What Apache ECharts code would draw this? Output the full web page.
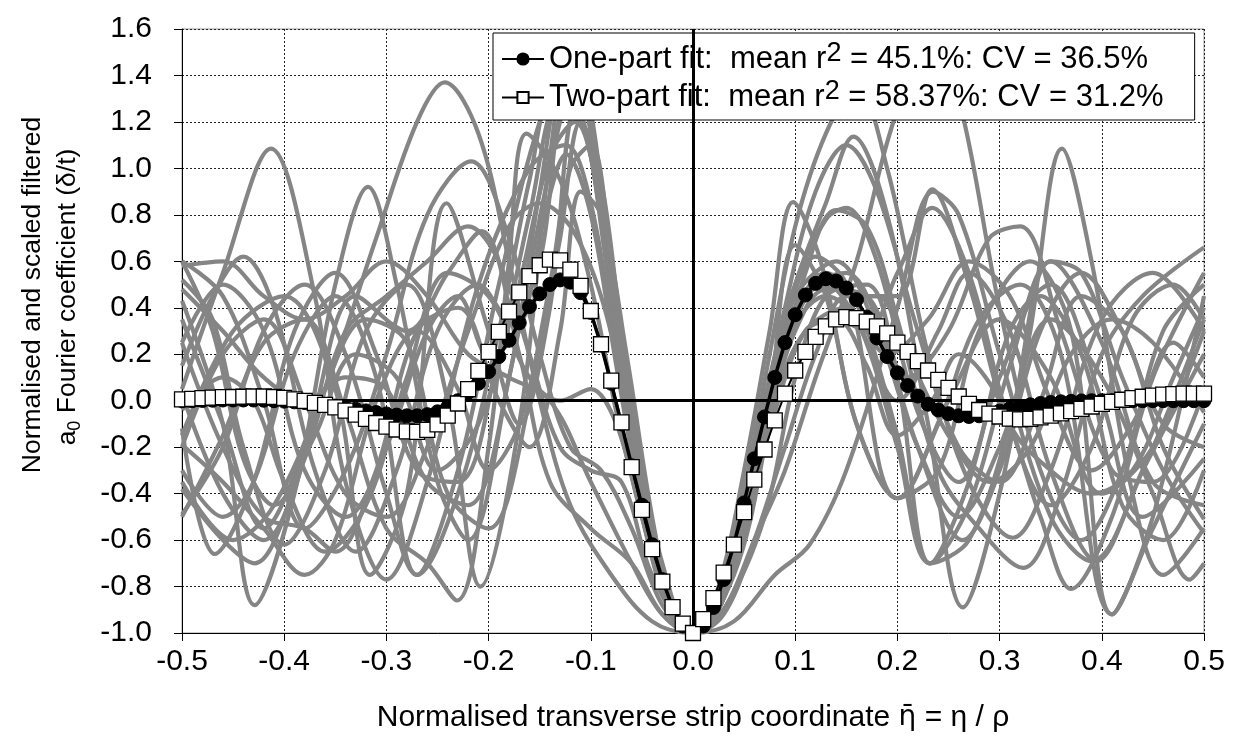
<!DOCTYPE html>
<html>
<head>
<meta charset="utf-8">
<script src="https://cdn.jsdelivr.net/npm/echarts@6/dist/echarts.min.js"></script>
<style>html,body{margin:0;padding:0;background:#fff}#c{width:1236px;height:740px}</style>
</head>
<body>
<div id="c"></div>
<script>
// ---------------- data ----------------
const fitNames = ['One-part fit', 'Two-part fit'];
const fitR2 = ['45.1%', '58.37%'];
const fitCV = ['36.5%', '31.2%'];
const yTitleLine1 = 'Normalised and scaled filtered';
const yTitleLine2 = ['a', '0', ' Fourier coefficient (δ/t)'];
const xTitleParts = ['Normalised transverse strip coordinate ', 'η̄', ' = η / ρ'];

const xFit = [-0.50,-0.49,-0.48,-0.47,-0.46,-0.45,-0.44,-0.43,-0.42,-0.41,-0.40,-0.39,-0.38,-0.37,-0.36,-0.35,-0.34,-0.33,-0.32,-0.31,-0.30,-0.29,-0.28,-0.27,-0.26,-0.25,-0.24,-0.23,-0.22,-0.21,-0.20,-0.19,-0.18,-0.17,-0.16,-0.15,-0.14,-0.13,-0.12,-0.11,-0.10,-0.09,-0.08,-0.07,-0.06,-0.05,-0.04,-0.03,-0.02,-0.01,0.00,0.01,0.02,0.03,0.04,0.05,0.06,0.07,0.08,0.09,0.10,0.11,0.12,0.13,0.14,0.15,0.16,0.17,0.18,0.19,0.20,0.21,0.22,0.23,0.24,0.25,0.26,0.27,0.28,0.29,0.30,0.31,0.32,0.33,0.34,0.35,0.36,0.37,0.38,0.39,0.40,0.41,0.42,0.43,0.44,0.45,0.46,0.47,0.48,0.49,0.50];

const onePart = [0.000,0.000,0.001,0.002,0.003,0.003,0.003,0.003,0.002,0.000,-0.002,-0.005,-0.008,-0.012,-0.017,-0.023,-0.030,-0.037,-0.044,-0.051,-0.057,-0.062,-0.065,-0.065,-0.060,-0.048,-0.028,0.000,0.035,0.075,0.125,0.190,0.260,0.335,0.405,0.460,0.500,0.520,0.510,0.465,0.380,0.240,0.075,-0.100,-0.280,-0.450,-0.620,-0.770,-0.890,-0.970,-1.000,-0.970,-0.890,-0.770,-0.620,-0.440,-0.250,-0.070,0.100,0.250,0.370,0.455,0.505,0.525,0.515,0.485,0.435,0.360,0.270,0.190,0.120,0.065,0.020,-0.015,-0.040,-0.056,-0.065,-0.068,-0.065,-0.056,-0.045,-0.034,-0.025,-0.018,-0.012,-0.008,-0.005,-0.003,-0.001,0.000,0.000,0.000,0.000,0.000,0.000,0.000,0.000,0.000,0.000,0.000,0.000];

const twoPart = [0.006,0.008,0.011,0.013,0.015,0.016,0.017,0.018,0.018,0.016,0.012,0.006,-0.001,-0.009,-0.018,-0.029,-0.043,-0.060,-0.078,-0.096,-0.112,-0.124,-0.132,-0.134,-0.126,-0.102,-0.064,-0.012,0.050,0.128,0.210,0.296,0.383,0.466,0.536,0.583,0.607,0.604,0.564,0.494,0.386,0.243,0.086,-0.093,-0.286,-0.470,-0.639,-0.779,-0.889,-0.960,-1.000,-0.940,-0.850,-0.740,-0.620,-0.480,-0.340,-0.210,-0.085,0.030,0.130,0.210,0.275,0.320,0.350,0.360,0.355,0.340,0.320,0.290,0.250,0.210,0.170,0.130,0.090,0.055,0.018,-0.014,-0.040,-0.056,-0.068,-0.077,-0.080,-0.078,-0.072,-0.064,-0.055,-0.045,-0.035,-0.025,-0.014,-0.005,0.004,0.011,0.017,0.022,0.026,0.028,0.030,0.030,0.030];

// individual (grey) curves, [x, y] points
const c01 = [[-0.5,0.05],[-0.46,0.55],[-0.413,1.085],[-0.37,0.45],[-0.34,-0.35],[-0.30,-0.77],[-0.26,-0.35],[-0.21,0.5],[-0.16,1.0],[-0.125,1.1],[-0.1,0.85],[-0.075,0.2],[-0.05,-0.42],[-0.025,-0.86],[0,-1],[0.025,-0.87],[0.05,-0.5],[0.075,-0.02],[0.1,0.38],[0.13,0.55],[0.16,0.42],[0.2,-0.15],[0.232,-0.7],[0.27,-0.45],[0.31,0.15],[0.35,0.6],[0.4,0.25],[0.45,-0.35],[0.5,-0.45]];
const c02 = [[-0.5,-0.35],[-0.45,-0.6],[-0.41,-0.45],[-0.36,0.05],[-0.31,0.7],[-0.27,1.2],[-0.243,1.37],[-0.21,1.15],[-0.18,0.6],[-0.15,0.0],[-0.12,-0.45],[-0.08,-0.75],[-0.04,-0.95],[0,-1],[0.04,-0.95],[0.08,-0.75],[0.114,-0.62],[0.15,-0.3],[0.2,0.4],[0.235,0.9],[0.26,0.8],[0.3,0.2],[0.35,-0.5],[0.39,-0.69],[0.44,-0.3],[0.5,0.35]];
const c03 = [[-0.5,0.43],[-0.46,-0.1],[-0.429,-0.88],[-0.39,-0.4],[-0.35,0.5],[-0.318,0.92],[-0.29,0.5],[-0.25,-0.35],[-0.22,-0.6],[-0.18,0.1],[-0.14,1.0],[-0.12,1.3],[-0.1,1.05],[-0.075,0.28],[-0.05,-0.4],[-0.025,-0.85],[0,-1],[0.025,-0.86],[0.05,-0.46],[0.075,0.05],[0.1,0.5],[0.13,0.85],[0.157,1.137],[0.19,0.8],[0.23,-0.1],[0.264,-0.89],[0.3,-0.4],[0.33,0.3],[0.361,1.085],[0.39,0.6],[0.43,-0.4],[0.46,-0.75],[0.5,-0.55]];
const c04 = [[-0.5,0.6],[-0.46,0.45],[-0.42,0.0],[-0.38,-0.55],[-0.34,-0.3],[-0.3,0.2],[-0.26,0.8],[-0.217,1.03],[-0.18,0.7],[-0.15,0.2],[-0.12,-0.2],[-0.09,-0.3],[-0.06,-0.55],[-0.03,-0.88],[0,-1],[0.03,-0.85],[0.06,-0.4],[0.09,0.3],[0.12,0.62],[0.15,0.5],[0.2,-0.42],[0.24,-0.3],[0.28,0.3],[0.33,0.6],[0.37,0.3],[0.41,-0.92],[0.45,-0.5],[0.5,0.45]];
const c05 = [[-0.5,-0.15],[-0.45,0.3],[-0.40,0.45],[-0.35,0.05],[-0.316,-0.75],[-0.28,-0.4],[-0.241,0.85],[-0.2,0.3],[-0.17,-0.1],[-0.14,0.4],[-0.115,1.25],[-0.095,1.0],[-0.075,0.3],[-0.05,-0.38],[-0.025,-0.84],[0,-1],[0.025,-0.85],[0.05,-0.42],[0.08,0.15],[0.1,0.45],[0.14,0.6],[0.18,0.3],[0.22,-0.2],[0.26,-0.5],[0.3,-0.2],[0.35,0.35],[0.4,0.1],[0.45,-0.4],[0.486,-0.77],[0.5,-0.7]];
const c06 = [[-0.5,0.35],[-0.46,-0.1],[-0.42,-0.55],[-0.38,-0.2],[-0.33,0.45],[-0.28,0.3],[-0.24,0.55],[-0.207,0.73],[-0.17,0.2],[-0.14,-0.35],[-0.1,-0.55],[-0.06,-0.7],[-0.03,-0.92],[0,-1],[0.03,-0.9],[0.07,-0.5],[0.1,0.1],[0.13,0.45],[0.17,0.5],[0.2,0.1],[0.232,-0.7],[0.27,-0.35],[0.31,0.3],[0.35,0.5],[0.4,0.0],[0.44,-0.5],[0.5,-0.25]];
const c07 = [[-0.5,-0.5],[-0.46,-0.15],[-0.42,0.25],[-0.38,0.35],[-0.34,-0.05],[-0.3,-0.55],[-0.26,-0.7],[-0.231,-0.86],[-0.2,-0.2],[-0.18,0.6],[-0.163,1.15],[-0.13,0.95],[-0.1,0.5],[-0.075,-0.05],[-0.05,-0.5],[-0.025,-0.88],[0,-1],[0.025,-0.9],[0.05,-0.55],[0.08,0.05],[0.11,0.55],[0.14,0.82],[0.17,0.75],[0.2,0.35],[0.24,-0.3],[0.28,-0.55],[0.323,-0.72],[0.36,-0.4],[0.4,0.2],[0.44,0.45],[0.5,0.66]];
const c08 = [[-0.5,0.25],[-0.46,0.5],[-0.42,0.3],[-0.38,-0.3],[-0.34,-0.5],[-0.3,-0.2],[-0.26,0.3],[-0.23,0.45],[-0.2,0.2],[-0.17,0.3],[-0.145,0.8],[-0.124,1.06],[-0.1,0.8],[-0.075,0.15],[-0.05,-0.45],[-0.025,-0.86],[0,-1],[0.025,-0.8],[0.05,-0.3],[0.075,0.3],[0.098,0.855],[0.125,0.6],[0.16,-0.1],[0.2,-0.42],[0.25,0.0],[0.3,0.35],[0.35,0.1],[0.4,-0.4],[0.45,-0.2],[0.5,0.3]];
const c09 = [[-0.5,-0.3],[-0.46,-0.5],[-0.43,-0.35],[-0.39,0.2],[-0.35,0.45],[-0.31,0.1],[-0.27,-0.75],[-0.23,-0.3],[-0.19,0.5],[-0.15,1.2],[-0.12,1.45],[-0.1,1.15],[-0.075,0.3],[-0.05,-0.4],[-0.025,-0.86],[0,-1],[0.025,-0.86],[0.05,-0.44],[0.075,0.05],[0.1,0.4],[0.13,0.5],[0.16,0.35],[0.2,0.0],[0.24,0.3],[0.27,0.55],[0.31,0.3],[0.35,-0.3],[0.395,-0.69],[0.44,-0.3],[0.5,0.2]];
const c10 = [[-0.5,0.52],[-0.47,0.35],[-0.44,-0.2],[-0.40,-0.62],[-0.36,-0.3],[-0.32,0.3],[-0.28,0.5],[-0.24,0.0],[-0.208,-0.8],[-0.17,-0.1],[-0.14,1.05],[-0.12,1.5],[-0.1,1.25],[-0.075,0.35],[-0.05,-0.36],[-0.025,-0.84],[0,-1],[0.025,-0.84],[0.05,-0.38],[0.075,0.2],[0.1,0.75],[0.13,1.15],[0.16,1.35],[0.19,1.0],[0.23,0.2],[0.27,-0.35],[0.313,-0.59],[0.35,-0.3],[0.4,0.35],[0.45,0.55],[0.5,0.3]];
const c11 = [[-0.5,0.15],[-0.47,0.45],[-0.44,0.62],[-0.41,0.4],[-0.37,-0.3],[-0.33,-0.65],[-0.29,-0.3],[-0.25,0.3],[-0.21,0.5],[-0.18,0.35],[-0.15,0.6],[-0.125,1.25],[-0.1,1.1],[-0.075,0.3],[-0.05,-0.38],[-0.025,-0.85],[0,-1],[0.025,-0.87],[0.05,-0.48],[0.075,-0.05],[0.1,0.3],[0.13,0.48],[0.17,0.45],[0.21,0.1],[0.25,0.3],[0.29,0.7],[0.32,0.75],[0.36,0.3],[0.41,-0.3],[0.45,-0.35],[0.5,0.05]];
const c12 = [[-0.5,-0.12],[-0.468,-0.66],[-0.43,-0.35],[-0.39,0.3],[-0.35,0.55],[-0.31,0.2],[-0.27,-0.3],[-0.23,-0.35],[-0.19,0.2],[-0.16,0.8],[-0.13,1.3],[-0.105,1.15],[-0.08,0.45],[-0.055,-0.25],[-0.025,-0.83],[0,-1],[0.025,-0.83],[0.05,-0.4],[0.075,0.1],[0.1,0.5],[0.13,0.78],[0.15,0.83],[0.18,0.6],[0.22,-0.05],[0.26,-0.35],[0.3,0.1],[0.34,0.45],[0.38,0.2],[0.42,-0.45],[0.46,-0.6],[0.5,-0.3]];
const c13 = [[-0.5,-0.38],[-0.46,-0.6],[-0.429,-0.7],[-0.394,-0.43],[-0.36,0.05],[-0.32,0.35],[-0.28,0.25],[-0.24,-0.4],[-0.2,-0.55],[-0.16,0.0],[-0.13,0.7],[-0.11,1.2],[-0.09,0.95],[-0.07,0.3],[-0.045,-0.4],[-0.02,-0.88],[0,-1],[0.025,-0.88],[0.05,-0.5],[0.08,0.0],[0.11,0.3],[0.14,0.35],[0.17,0.15],[0.2,-0.15],[0.234,0.0],[0.26,0.2],[0.3,0.0],[0.34,-0.5],[0.37,-0.81],[0.41,-0.5],[0.45,0.1],[0.5,0.55]];
const c14 = [[-0.5,0.03],[-0.46,-0.4],[-0.42,-0.6],[-0.38,-0.25],[-0.34,0.3],[-0.3,0.45],[-0.26,0.6],[-0.22,0.75],[-0.19,0.6],[-0.16,0.2],[-0.13,-0.2],[-0.1,-0.3],[-0.07,-0.35],[-0.04,-0.75],[0,-1],[0.04,-0.75],[0.07,-0.2],[0.1,0.67],[0.13,0.45],[0.16,-0.1],[0.2,-0.42],[0.24,-0.1],[0.28,0.35],[0.32,0.5],[0.36,0.2],[0.41,-0.92],[0.45,-0.55],[0.5,-0.1]];
const c15 = [[-0.5,-0.49],[-0.46,-0.2],[-0.42,0.3],[-0.38,0.5],[-0.34,0.2],[-0.3,-0.4],[-0.27,-0.75],[-0.23,-0.4],[-0.19,0.3],[-0.16,0.95],[-0.135,1.35],[-0.11,1.25],[-0.085,0.6],[-0.06,-0.1],[-0.03,-0.75],[0,-1],[0.03,-0.78],[0.06,-0.25],[0.09,0.4],[0.12,0.9],[0.15,1.1],[0.18,0.9],[0.22,0.3],[0.26,-0.2],[0.3,-0.35],[0.34,0.0],[0.38,0.45],[0.42,0.3],[0.46,-0.2],[0.5,-0.51]];
const c16 = [[-0.5,0.25],[-0.46,-0.2],[-0.42,-0.5],[-0.38,-0.55],[-0.35,-0.65],[-0.31,-0.3],[-0.27,0.3],[-0.23,0.4],[-0.19,0.0],[-0.16,-0.2],[-0.13,0.3],[-0.11,0.9],[-0.09,0.8],[-0.065,0.2],[-0.04,-0.5],[-0.02,-0.88],[0,-1],[0.02,-0.9],[0.045,-0.55],[0.07,-0.1],[0.1,0.35],[0.13,0.52],[0.16,0.45],[0.2,0.45],[0.234,0.91],[0.27,0.5],[0.31,-0.1],[0.35,-0.3],[0.39,-0.4],[0.43,-0.3],[0.47,0.1],[0.5,0.4]];
const c17 = [[-0.5,-0.2],[-0.46,0.2],[-0.42,0.35],[-0.38,0.0],[-0.34,-0.4],[-0.3,-0.5],[-0.26,-0.2],[-0.22,0.3],[-0.18,0.75],[-0.15,0.85],[-0.12,0.75],[-0.09,0.45],[-0.06,-0.1],[-0.03,-0.7],[0,-1],[0.03,-0.9],[0.06,-0.6],[0.09,-0.3],[0.12,0.1],[0.16,0.6],[0.2,1.25],[0.235,1.5],[0.26,1.3],[0.3,0.4],[0.34,-0.3],[0.38,-0.6],[0.42,-0.3],[0.46,0.3],[0.5,0.5]];
const c18 = [[-0.5,0.48],[-0.46,0.3],[-0.42,0.1],[-0.38,0.0],[-0.34,0.1],[-0.3,0.05],[-0.26,-0.35],[-0.22,-0.45],[-0.18,0.1],[-0.15,0.9],[-0.125,1.4],[-0.1,1.2],[-0.075,0.35],[-0.05,-0.38],[-0.025,-0.85],[0,-1],[0.025,-0.9],[0.05,-0.55],[0.08,-0.05],[0.11,0.3],[0.14,0.35],[0.17,0.3],[0.2,0.55],[0.234,0.83],[0.27,0.55],[0.31,-0.1],[0.35,-0.45],[0.39,-0.2],[0.43,0.35],[0.47,0.5],[0.5,0.35]];
const c19 = [[-0.5,0.6],[-0.47,0.3],[-0.44,-0.25],[-0.41,-0.45],[-0.37,-0.15],[-0.33,0.2],[-0.29,0.1],[-0.25,-0.3],[-0.21,-0.1],[-0.17,0.5],[-0.14,1.05],[-0.115,1.2],[-0.095,0.95],[-0.07,0.2],[-0.045,-0.45],[-0.02,-0.9],[0,-1],[0.025,-0.85],[0.05,-0.45],[0.075,0.0],[0.1,0.33],[0.13,0.45],[0.16,0.35],[0.2,-0.2],[0.232,-0.7],[0.27,-0.6],[0.31,-0.1],[0.35,0.6],[0.38,0.55],[0.42,0.1],[0.46,-0.3],[0.5,-0.57]];
const c20 = [[-0.5,-0.04],[-0.46,0.1],[-0.43,0.0],[-0.4,-0.35],[-0.36,-0.65],[-0.32,-0.45],[-0.28,0.1],[-0.24,0.55],[-0.2,0.45],[-0.16,0.1],[-0.13,0.0],[-0.1,0.05],[-0.075,-0.1],[-0.05,-0.5],[-0.025,-0.88],[0,-1],[0.025,-0.88],[0.05,-0.5],[0.08,0.0],[0.11,0.3],[0.15,0.4],[0.19,0.2],[0.23,0.35],[0.27,0.6],[0.31,0.45],[0.35,0.0],[0.39,-0.3],[0.43,-0.1],[0.47,0.25],[0.5,0.1]];
const c21 = [[-0.5,0.58],[-0.46,0.6],[-0.42,0.45],[-0.38,0.35],[-0.34,0.45],[-0.3,0.6],[-0.26,0.45],[-0.22,0.2],[-0.18,0.1],[-0.14,0.0],[-0.1,-0.35],[-0.06,-0.7],[-0.03,-0.92],[0,-1],[0.03,-0.92],[0.06,-0.6],[0.09,-0.2],[0.12,0.2],[0.15,0.45],[0.18,0.45],[0.21,0.2],[0.25,-0.15],[0.29,-0.35],[0.33,-0.2],[0.37,0.2],[0.41,0.35],[0.45,0.25],[0.5,-0.05]];
const c22 = [[-0.5,-0.19],[-0.46,-0.35],[-0.42,-0.55],[-0.38,-0.75],[-0.35,-0.6],[-0.31,0.0],[-0.27,0.3],[-0.23,0.05],[-0.2,-0.3],[-0.17,-0.1],[-0.14,0.5],[-0.12,1.0],[-0.1,1.1],[-0.08,0.6],[-0.055,-0.2],[-0.03,-0.78],[0,-1],[0.03,-0.8],[0.06,-0.3],[0.09,0.25],[0.12,0.5],[0.15,0.55],[0.18,0.35],[0.22,-0.2],[0.264,-0.6],[0.3,-0.3],[0.34,0.3],[0.38,0.55],[0.42,0.3],[0.46,-0.1],[0.5,-0.2]];
const greyCurves = [c01,c02,c03,c04,c05,c06,c07,c08,c09,c10,c11,c12,c13,c14,c15,c16,c17,c18,c19,c20,c21,c22];

// ---------------- chart ----------------
const FONT = "'Liberation Sans', Arial, sans-serif";
const chart = echarts.init(document.getElementById('c'), null, {renderer: 'canvas'});

const greySeries = greyCurves.map((pts, i) => ({
  name: 'g' + (i + 1),
  type: 'line',
  data: pts,
  smooth: 0.35,
  showSymbol: false,
  symbol: 'none',
  lineStyle: {color: '#858585', width: 4.2},
  z: 2,
  silent: true,
  clip: true
}));

const option = {
  animation: false,
  backgroundColor: '#ffffff',
  grid: {left: 182, top: 29, width: 1022, height: 604, show: true, borderColor: '#9a9a9a', borderWidth: 1, backgroundColor: 'transparent'},
  legend: {
    data: fitNames,
    orient: 'vertical',
    left: 493, top: 33,
    padding: [7, 31, 7, 8],
    itemGap: 4,
    itemWidth: 42, itemHeight: 14,
    backgroundColor: '#ffffff',
    borderColor: '#000000', borderWidth: 1,
    borderRadius: 0,
    formatter: function (name) {
      const i = fitNames.indexOf(name);
      return '{t|' + name + ':  mean r}{s|2}{t| = ' + fitR2[i] + ': CV = ' + fitCV[i] + '}';
    },
    textStyle: {
      color: '#000',
      rich: {
        t: {fontFamily: FONT, fontSize: 31, color: '#000', lineHeight: 38},
        s: {fontFamily: FONT, fontSize: 27, color: '#000', verticalAlign: 'top', lineHeight: 28}
      }
    }
  },
  xAxis: {
    type: 'value', min: -0.5, max: 0.5, interval: 0.1,
    name: '{t|' + xTitleParts[0] + '}{e|' + xTitleParts[1] + '}{t|' + xTitleParts[2] + '}',
    nameLocation: 'middle', nameGap: 70,
    nameTextStyle: {
      fontFamily: FONT, fontSize: 30, color: '#000',
      rich: {
        t: {fontFamily: FONT, fontSize: 30, color: '#000'},
        e: {fontFamily: "'DejaVu Sans', sans-serif", fontSize: 28, color: '#000'}
      }
    },
    axisLine: {show: true, onZero: false, lineStyle: {color: '#000', width: 1}},
    axisTick: {show: true, inside: false, length: 8, lineStyle: {color: '#000'}},
    axisLabel: {fontFamily: FONT, fontSize: 30, color: '#000', margin: 14, formatter: v => v.toFixed(1)},
    splitLine: {show: true, lineStyle: {color: '#222', width: 1, type: [2, 2]}}
  },
  yAxis: {
    type: 'value', min: -1.0, max: 1.6, interval: 0.2,
    axisLine: {show: true, onZero: false, lineStyle: {color: '#000', width: 1}},
    axisTick: {show: true, inside: false, length: 8, lineStyle: {color: '#000'}},
    axisLabel: {fontFamily: FONT, fontSize: 30, color: '#000', margin: 30, formatter: v => v.toFixed(1)},
    splitLine: {show: true, lineStyle: {color: '#222', width: 1, type: [2, 2]}}
  },
  graphic: [
    {type: 'text', x: 33, y: 295, rotation: Math.PI / 2, z: 10,
      style: {text: yTitleLine1, fontFamily: FONT, fontSize: 26.5, fill: '#000', align: 'center', verticalAlign: 'middle', textAlign: 'center', textVerticalAlign: 'middle'}},
    {type: 'text', x: 68, y: 297, rotation: Math.PI / 2, z: 10,
      style: {text: '{t|' + yTitleLine2[0] + '}{b|' + yTitleLine2[1] + '}{t|' + yTitleLine2[2] + '}',
        align: 'center', verticalAlign: 'middle', textAlign: 'center', textVerticalAlign: 'middle',
        rich: {
          t: {fontFamily: FONT, fontSize: 26.5, fill: '#000', color: '#000', lineHeight: 32},
          b: {fontFamily: FONT, fontSize: 18, fill: '#000', color: '#000', verticalAlign: 'bottom', lineHeight: 22}
        }}}
  ],
  series: greySeries.concat([
    {
      name: 'zero', type: 'line', data: [], z: 3, silent: true,
      markLine: {
        silent: true, symbol: ['none', 'none'], label: {show: false},
        lineStyle: {color: '#000', width: 3, type: 'solid'},
        emphasis: {disabled: true},
        data: [{yAxis: 0}, {xAxis: 0}]
      }
    },
    {
      name: fitNames[0], type: 'line',
      data: xFit.map((x, i) => [x, onePart[i]]),
      symbol: 'circle', symbolSize: 14, showAllSymbol: true,
      lineStyle: {color: '#000', width: 3.5},
      itemStyle: {color: '#000', borderColor: '#000', borderWidth: 1},
      z: 4
    },
    {
      name: fitNames[1], type: 'line',
      data: xFit.map((x, i) => [x, twoPart[i]]),
      symbol: 'rect', symbolSize: 15, showAllSymbol: true,
      lineStyle: {color: '#000', width: 2},
      itemStyle: {color: '#ffffff', borderColor: '#000', borderWidth: 1.3},
      z: 5
    }
  ])
};
chart.setOption(option);
</script>
</body>
</html>
